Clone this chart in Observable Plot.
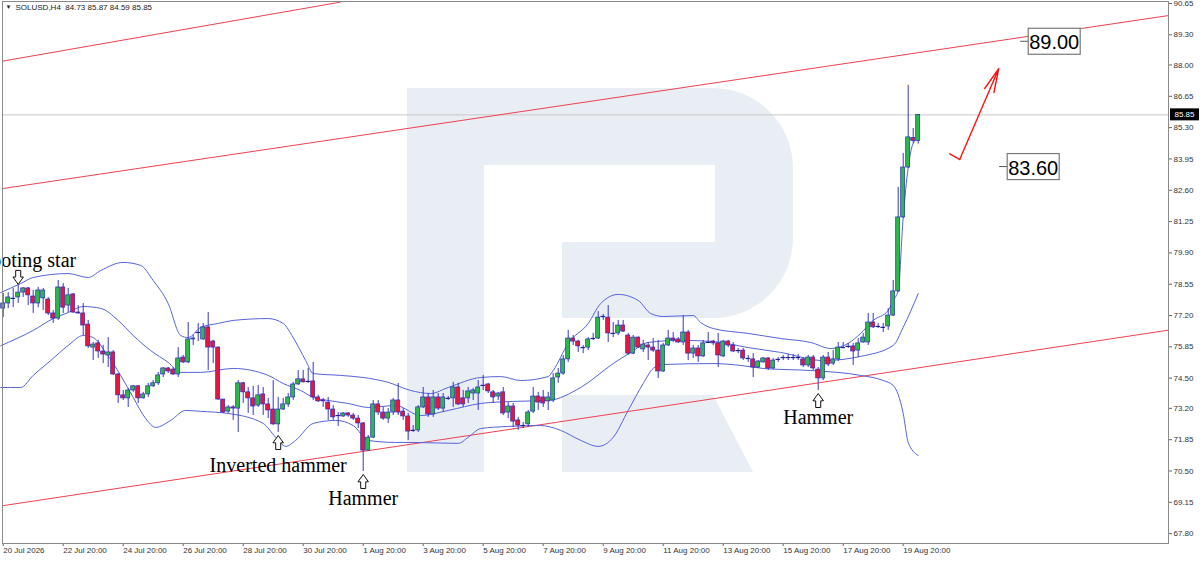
<!DOCTYPE html>
<html><head><meta charset="utf-8">
<script src="https://cdn.jsdelivr.net/npm/d3@7"></script>
<script src="https://cdn.jsdelivr.net/npm/@observablehq/plot@0.6"></script>
<style>
html,body{margin:0;padding:0;background:#fff;}
#wrap{position:relative;width:1200px;height:561px;overflow:hidden;}
#wm{position:absolute;left:0;top:0;}
#chart{position:absolute;left:0;top:0;}
</style></head><body>
<div id="wrap">
<svg id="wm" width="1200" height="561">
  <g fill="#e9edf4">
    <rect x="407" y="88" width="77" height="384"/>
    <path d="M484,88 H713 A80,80 0 0 1 793,168 V238 A80,80 0 0 1 713,318 H562 V242 H715 V165 H484 Z"/>
    <path d="M562,395 H713 L753,472 H562 Z"/>
  </g>
</svg>
<div id="chart"></div>
</div>
<script>
// ---------- data ----------
const symbol = "SOLUSD,H4";
const opens = [77.50,77.72,77.94,77.98,78.19,78.37,78.02,77.72,77.94,77.89,77.29,77.07,78.41,77.63,78.11,77.33,77.29,76.81,75.82,76.00,75.65,75.48,75.61,74.66,73.76,73.63,73.97,74.15,73.63,73.80,74.15,74.28,74.66,74.92,74.87,74.66,75.39,75.18,76.17,76.47,76.17,76.69,76.08,75.82,73.58,73.06,73.24,73.19,74.28,73.89,73.63,73.32,73.80,73.37,73.15,72.51,73.15,73.37,73.67,74.23,74.45,74.36,74.36,73.67,73.54,73.45,73.15,72.89,72.85,72.98,72.89,72.76,72.55,71.38,71.94,73.37,73.02,72.76,73.02,73.54,73.06,72.85,72.25,72.25,73.24,73.67,72.94,73.67,73.19,73.63,73.63,74.10,73.63,73.63,73.84,73.84,74.19,74.23,73.89,73.71,73.89,73.02,73.28,72.68,72.46,72.51,73.06,73.71,73.67,73.50,73.54,74.53,74.70,75.31,76.21,76.08,75.82,75.82,76.21,76.21,77.16,77.11,76.43,76.43,76.77,76.34,75.56,76.25,75.74,75.91,75.82,75.69,74.79,75.91,76.21,76.17,76.04,76.47,75.56,75.78,75.44,76.04,76.08,76.00,75.44,76.08,75.91,75.69,75.69,75.35,75.31,74.96,75.18,75.35,74.92,75.31,75.39,75.39,75.39,75.39,75.31,75.05,75.39,74.87,74.49,75.39,75.13,75.31,75.82,75.87,75.87,75.69,76.04,76.04,76.90,76.73,76.69,76.73,77.20,78.24,81.43,83.58,84.85,84.73];
const highs = [78.15,78.19,78.37,78.50,78.41,78.41,78.28,78.41,78.37,77.98,77.42,78.71,78.58,78.37,78.15,77.63,77.72,76.99,76.04,76.13,75.91,76.25,75.69,74.70,73.97,74.06,74.19,74.19,73.89,74.28,74.40,74.75,74.96,74.96,74.96,75.82,75.48,76.90,76.34,76.86,76.86,77.33,76.13,75.85,73.58,73.32,73.32,74.40,74.32,74.10,74.15,74.19,74.10,73.63,74.40,73.67,73.63,73.84,74.32,74.83,74.83,74.92,75.18,73.76,73.63,73.67,73.32,73.02,73.02,73.02,72.98,72.89,72.59,72.03,73.54,73.54,73.24,73.19,73.63,74.28,73.19,72.98,72.46,73.32,74.10,73.84,73.97,73.84,73.84,73.71,74.32,74.28,73.97,74.10,74.06,74.40,74.62,74.28,73.97,73.89,74.10,73.45,73.41,72.81,72.59,73.11,74.10,73.89,73.97,73.89,74.70,74.92,75.48,76.56,76.34,76.13,75.91,76.25,76.43,77.37,77.25,77.63,76.90,76.99,76.99,76.43,76.34,76.28,76.13,76.04,76.21,76.13,76.00,76.56,76.47,76.25,77.20,76.56,75.91,75.91,76.13,76.47,76.13,76.43,76.13,76.13,76.04,75.78,75.78,75.48,75.56,75.26,75.39,75.39,75.35,75.39,75.48,75.52,75.52,75.52,75.39,75.48,75.48,74.96,75.48,75.61,75.69,76.04,76.04,76.00,76.00,76.21,76.43,77.29,77.29,76.86,76.86,77.50,78.71,82.72,84.19,87.12,85.26,85.87];
const lows = [77.11,77.50,77.54,77.72,77.98,77.63,77.29,77.54,77.42,77.20,76.86,76.99,77.29,77.33,77.29,77.25,76.34,75.78,75.26,75.35,75.13,74.96,74.62,73.41,73.54,73.24,73.89,73.41,73.60,73.67,74.10,74.19,74.53,74.70,74.62,74.53,75.13,75.13,75.91,76.08,76.13,74.83,75.13,73.54,72.98,72.98,72.68,72.16,73.41,72.98,72.89,73.24,72.89,72.76,72.46,72.16,73.11,73.24,73.54,74.19,74.30,74.28,73.54,73.45,73.24,72.68,72.68,72.42,72.81,72.81,72.68,72.33,70.48,71.35,71.90,72.89,72.68,72.55,72.89,72.89,72.68,71.82,72.16,72.16,73.19,72.81,72.81,73.11,73.02,73.54,73.24,73.32,73.24,73.41,73.54,73.11,73.97,73.84,73.41,73.54,72.89,72.76,72.38,72.25,72.33,72.38,72.98,73.11,73.24,73.11,73.45,74.28,74.62,75.18,75.91,75.61,75.56,75.69,76.13,76.17,76.99,76.04,76.25,76.34,76.47,75.48,75.52,75.78,75.61,75.26,75.61,74.49,74.75,75.87,76.04,76.00,75.91,75.26,75.35,75.18,75.39,76.00,75.91,74.96,75.39,75.82,75.61,75.56,75.26,75.18,74.53,74.92,75.15,74.83,74.87,75.18,75.26,75.26,75.26,75.26,74.96,74.96,74.83,73.97,74.40,75.00,75.05,75.22,75.78,75.78,75.05,75.39,76.00,75.91,76.64,76.64,76.47,76.56,77.16,78.19,81.38,83.54,84.60,84.59];
const closes = [77.72,77.98,77.94,78.19,78.37,78.07,77.72,78.28,78.28,77.29,77.07,78.41,77.54,78.07,77.33,77.29,76.77,75.87,75.95,75.65,75.52,75.61,74.66,73.76,73.63,73.97,74.15,73.63,73.80,74.15,74.28,74.62,74.92,74.79,74.66,75.35,75.18,76.17,76.21,76.47,76.69,75.82,75.82,73.58,73.02,73.24,73.19,74.28,73.89,73.63,73.28,73.76,73.37,73.11,72.51,73.15,73.37,73.67,74.23,74.45,74.32,74.36,73.67,73.50,73.50,73.15,72.81,72.89,72.98,72.89,72.76,72.55,71.38,71.94,73.37,73.02,72.76,73.02,73.54,73.02,72.85,72.20,72.25,73.24,73.67,72.94,73.67,73.19,73.67,73.63,74.10,73.37,73.37,73.93,73.97,74.10,74.19,73.93,73.67,73.84,72.98,73.28,72.63,72.46,72.46,73.02,73.71,73.45,73.41,73.67,74.49,74.70,75.31,76.21,76.08,75.87,75.82,76.17,76.21,77.11,77.16,76.43,76.43,76.77,76.51,75.56,76.25,75.82,75.95,75.82,75.69,74.79,75.91,76.21,76.13,76.04,76.47,75.56,75.78,75.44,76.00,76.04,76.00,75.48,76.08,75.91,75.65,75.69,75.35,75.35,74.96,75.22,75.35,74.92,75.26,75.31,75.39,75.39,75.39,75.39,75.05,75.39,74.92,74.49,75.39,75.09,75.31,75.82,75.82,75.87,75.65,76.00,76.25,76.90,76.69,76.73,76.69,77.20,78.24,81.43,83.58,84.88,84.73,85.85];

// Bollinger bands (candle index, price)
const upperIdx = [-0.5,3.5,6,13,17,19.5,24,27.5,30,33,35.5,37,39.5,43,46,53,56,58,60.5,62,67.5,72,77,81.5,85.5,89,95.5,99.5,103.5,109,110,113,117,119.5,123,127,129.5,132,138,139.5,142,149,155.5,161.5,165.5,169,171.5,174,177,178,179,180,181,182,183];
const upperVal = [78.19,78.58,78.84,79.01,78.84,79.14,79.49,79.36,78.71,77.72,76.34,76.25,76.69,76.86,76.99,77.07,76.86,76.25,75.26,74.70,74.62,74.53,74.32,73.97,73.84,74.10,74.53,74.57,74.40,74.57,74.83,76.00,76.86,77.72,78.11,77.85,77.29,77.16,77.20,76.90,76.64,76.43,76.21,76.04,75.78,76.00,76.43,76.99,77.42,77.85,78.28,81.43,83.58,84.62,84.83];
const middleIdx = [-0.5,6,10,13,16,19.5,23,26,29.5,33,35.5,39.5,46,53,56,59.5,62,65,69,73,78.5,83.5,89,95.5,102,109,115.5,122,125.5,129,135.5,142,149,155.5,164,171.5,178,180,183];
const middleVal = [75.90,76.56,77.07,77.33,77.59,77.51,76.99,76.34,75.69,75.18,74.75,74.75,74.92,74.62,74.27,73.97,73.67,73.54,73.41,73.24,73.32,72.89,73.11,73.41,73.50,73.54,74.10,75.13,75.61,76.04,76.13,76.08,75.82,75.61,75.26,75.44,75.91,76.69,78.15];
const lowerIdx = [-0.5,3.5,6,9.5,13,16,18,20.5,23.5,26,28.5,30.5,33.5,36.5,39.5,45,52,54.5,56.5,58.5,62,66.5,70,73,78.5,82,91,93,95.5,101,107.5,111.5,115.5,119,122,125,128,130,132,142,147.5,152,161.5,171.5,176,178,180,181,183];
const lowerVal = [74.10,74.10,74.62,75.26,75.91,76.34,76.25,75.61,74.62,73.67,72.76,72.38,72.68,73.11,73.07,72.98,72.55,71.95,71.56,71.82,72.55,72.68,72.46,71.82,71.73,71.73,71.69,71.95,72.33,72.42,72.46,72.25,71.82,71.56,71.95,73.11,74.27,74.92,75.09,75.13,75.05,74.92,74.83,74.62,74.40,74.19,72.98,71.73,71.17];

// channel lines (start index, start price, end index, end price)
const trendX1 = [-0.54, -0.54, -0.54];
const trendY1 = [88.15, 82.66, 68.99];
const trendX2 = [67.46, 233.06, 233.06];
const trendY2 = [90.71, 90.13, 76.57];

// hand-drawn forecast arrow
const drawIdx = [189.3, 191.3, 199.1];
const drawPrice = [84.17, 83.93, 87.84];

// target levels
const targetLevels = [89.00, 83.60];
const targetIdx = [203.5, 199.3];

// candle pattern labels
const patternIdx = [3, 55, 72, 163];
const patternName = ["Shooting star", "Inverted hammer", "Hammer", "Hammer"];

// axes
const dateTickIdx = [0,12,24,36,48,60,72,84,96,108,120,132,144,156,168,180];
const dateLabels = ["20 Jul 2026","22 Jul 20:00","24 Jul 20:00","26 Jul 20:00","28 Jul 20:00","30 Jul 20:00","1 Aug 20:00","3 Aug 20:00","5 Aug 20:00","7 Aug 20:00","9 Aug 20:00","11 Aug 20:00","13 Aug 20:00","15 Aug 20:00","17 Aug 20:00","19 Aug 20:00"];
const priceTicks = [90.65,89.30,88.00,86.65,85.30,83.95,82.60,81.25,79.90,78.55,77.20,75.85,74.50,73.20,71.85,70.50,69.15,67.80];

// ---------- build ----------
const candles = opens.map((o, i) => ({i, open: o, high: highs[i], low: lows[i], close: closes[i]}));
const bodies = candles.filter(d => d.open !== d.close);
const dojis = candles.filter(d => d.open === d.close);
const band = (xs, ys) => xs.map((x, k) => ({x, y: ys[k]}));
const last = candles[candles.length - 1];
const header = `${symbol}  ${last.open.toFixed(2)} ${last.high.toFixed(2)} ${last.low.toFixed(2)} ${last.close.toFixed(2)}`;
const trends = trendX1.map((x, k) => ({x1: x, y1: trendY1[k], x2: trendX2[k], y2: trendY2[k]}));
const patterns = patternIdx.map((i, k) => ({i, name: patternName[k], high: highs[i], low: lows[i]}));
const WICK = "#3535d0", BAND = "#5563d8";
const serif = "Liberation Serif, Times New Roman, serif";

// hollow block-arrow symbols (size = pi r^2)
function blockArrow(dir) {
  return {
    draw(ctx, size) {
      const r = Math.sqrt(size / Math.PI);
      const s = dir; // -1 up, +1 down
      const hw = 0.75 * r, sw = 0.36 * r, hb = -0.05 * r;
      ctx.moveTo(0, s * -r * -1 * -1 * 1 === 0 ? 0 : -s * -r);
      ctx.moveTo(0, s * r);
      ctx.lineTo(hw, s * hb);
      ctx.lineTo(sw, s * hb);
      ctx.lineTo(sw, -s * r);
      ctx.lineTo(-sw, -s * r);
      ctx.lineTo(-sw, s * hb);
      ctx.lineTo(-hw, s * hb);
      ctx.closePath();
    }
  };
}
const arrowUp = blockArrow(-1), arrowDown = blockArrow(1);

const chart = Plot.plot({
  width: 1200, height: 561,
  marginLeft: 2, marginRight: 32, marginTop: 1, marginBottom: 18,
  style: {background: "transparent", fontFamily: "Liberation Sans, Arial, sans-serif", overflow: "visible"},
  x: {domain: [-0.14, 233.06], axis: null},
  y: {domain: [67.375, 90.736], axis: null},
  marks: [
    Plot.ruleY([last.close], {stroke: "#c8c8c8", strokeWidth: 1}),
    Plot.link(trends, {x1: "x1", y1: "y1", x2: "x2", y2: "y2", stroke: "#f04050", strokeWidth: 1, clip: true}),
    Plot.line(band(upperIdx, upperVal), {x: "x", y: "y", stroke: BAND, strokeWidth: 1, curve: "monotone-x"}),
    Plot.line(band(middleIdx, middleVal), {x: "x", y: "y", stroke: BAND, strokeWidth: 1, curve: "monotone-x"}),
    Plot.line(band(lowerIdx, lowerVal), {x: "x", y: "y", stroke: BAND, strokeWidth: 1, curve: "monotone-x"}),
    Plot.ruleX(candles, {x: "i", y1: "low", y2: "high", stroke: WICK, strokeWidth: 1}),
    Plot.rect(bodies, {x1: d => d.i - 0.4, x2: d => d.i + 0.4, y1: "open", y2: "close",
      fill: d => d.close > d.open ? "#2db84a" : "#e8163c", stroke: "#2c2cb8", strokeWidth: 0.7}),
    Plot.ruleY(dojis, {y: "close", x1: d => d.i - 0.45, x2: d => d.i + 0.45, stroke: "#20208a", strokeWidth: 1.2}),
    // pattern arrows and labels
    Plot.dot(patterns.slice(0, 1), {x: "i", y: "high", dy: -8, r: 7, symbol: arrowDown, fill: "#fff", stroke: "#111", strokeWidth: 1}),
    Plot.text(patterns.slice(0, 1), {x: "i", y: "high", text: "name", dy: -25, dx: 58, textAnchor: "end", fontSize: 20, fontFamily: serif, fill: "#000"}),
    Plot.dot(patterns.slice(1), {x: "i", y: "low", dy: 10, r: 7, symbol: arrowUp, fill: "#fff", stroke: "#111", strokeWidth: 1}),
    Plot.text(patterns.slice(1, 2), {x: "i", y: "low", text: "name", dy: 33, fontSize: 20, fontFamily: serif, fill: "#000"}),
    Plot.text(patterns.slice(2), {x: "i", y: "low", text: "name", dy: 27, fontSize: 20, fontFamily: serif, fill: "#000"}),
    // forecast arrow
    Plot.line(drawIdx.slice(0, 2).map((x, k) => ({x, y: drawPrice[k]})), {x: "x", y: "y", stroke: "#ff1010", strokeWidth: 1.4}),
    Plot.arrow([{x1: drawIdx[1], y1: drawPrice[1], x2: drawIdx[2], y2: drawPrice[2]}],
      {x1: "x1", y1: "y1", x2: "x2", y2: "y2", stroke: "#ff1010", strokeWidth: 1.4, headAngle: 24, headLength: 26, insetEnd: 0, insetStart: 0}),
    // axes
    Plot.axisY(priceTicks, {anchor: "right", tickSize: 3, tickPadding: 2, fontSize: 8, fill: "#333", stroke: "#666",
      tickFormat: d => d.toFixed(2)}),
    Plot.axisX(dateTickIdx, {anchor: "bottom", tickSize: 3, tickPadding: 1, fontSize: 8, fill: "#333", stroke: "#666",
      textAnchor: "start", dx: 0, tickFormat: d => dateLabels[dateTickIdx.indexOf(d)]}),
    Plot.frame({stroke: "#8a8a8a"}),
    Plot.text([header], {frameAnchor: "top-left", dx: 13, dy: 6, textAnchor: "start", lineAnchor: "middle", fontSize: 8, fill: "#222"}),
    Plot.text(["\u25BC"], {frameAnchor: "top-left", dx: 3, dy: 6, textAnchor: "start", lineAnchor: "middle", fontSize: 6, fill: "#222"})
  ]
});
document.getElementById("chart").appendChild(chart);

// ---------- tags positioned through the plot's scales ----------
const sx = chart.scale("x"), sy = chart.scale("y");
const svg = d3.select(chart);
const right = sx.apply(sx.domain[1]);
const tag = svg.append("g");
tag.append("rect").attr("x", right + 2).attr("y", sy.apply(last.close) - 6).attr("width", 29).attr("height", 12).attr("fill", "#000");
tag.append("text").attr("x", right + 16.5).attr("y", sy.apply(last.close)).attr("text-anchor", "middle")
  .attr("dominant-baseline", "central").attr("font-size", 8).attr("fill", "#fff").text(last.close.toFixed(2));

targetLevels.forEach((v, k) => {
  const x0 = sx.apply(targetIdx[k]), y0 = sy.apply(v);
  const g = svg.append("g");
  g.append("line").attr("x1", x0).attr("x2", x0 + 8).attr("y1", y0).attr("y2", y0).attr("stroke", "#555");
  g.append("rect").attr("x", x0 + 8).attr("y", y0 - 13).attr("width", 52).attr("height", 26)
    .attr("fill", "#fff").attr("stroke", "#7a7a7a").attr("stroke-width", 1.2);
  g.append("text").attr("x", x0 + 34).attr("y", y0 + 1).attr("text-anchor", "middle").attr("dominant-baseline", "central")
    .attr("font-size", 20).attr("font-family", "Liberation Sans, Arial, sans-serif").attr("fill", "#000").text(v.toFixed(2));
});
</script>
</body></html>
